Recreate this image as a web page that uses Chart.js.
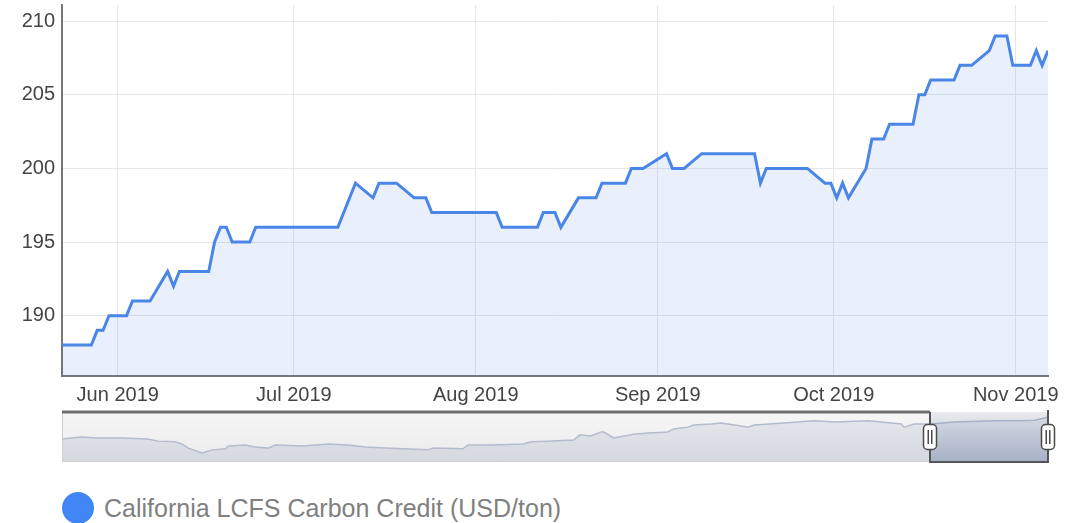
<!DOCTYPE html>
<html>
<head>
<meta charset="utf-8">
<script src="https://cdn.jsdelivr.net/npm/chart.js@4.4.1/dist/chart.umd.min.js"></script>
<style>
  html, body { margin: 0; padding: 0; background: #fff; }
  #wrap { position: relative; width: 1077px; height: 523px; overflow: hidden; }
  #main { position: absolute; left: 0; top: 0; }
  #nav { position: absolute; left: 50px; top: 400px; }
  #legend { position: absolute; left: 62px; top: 492px; display: flex; align-items: center;
            font: 25px 'Liberation Sans', Arial, sans-serif; color: #808080; white-space: nowrap; }
  #legend .dot { width: 32px; height: 32px; border-radius: 50%; margin-right: 10px; }
</style>
</head>
<body>
<div id="wrap">
  <canvas id="main" width="1077" height="405"></canvas>
  <canvas id="nav" width="1020" height="72"></canvas>
  <div id="legend"></div>
</div>
<script>
// --- data ---
const seriesName = 'California LCFS Carbon Credit (USD/ton)';

const dates = [
  '2019-05-22', '2019-05-27', '2019-05-28', '2019-05-29', '2019-05-30', '2019-06-02', '2019-06-03',
  '2019-06-06', '2019-06-09', '2019-06-10', '2019-06-11', '2019-06-16', '2019-06-17', '2019-06-18',
  '2019-06-19', '2019-06-20', '2019-06-23', '2019-06-24', '2019-07-08', '2019-07-11', '2019-07-14',
  '2019-07-15', '2019-07-18', '2019-07-21', '2019-07-23', '2019-07-24', '2019-08-04', '2019-08-05',
  '2019-08-11', '2019-08-12', '2019-08-14', '2019-08-15', '2019-08-18', '2019-08-21', '2019-08-22',
  '2019-08-26', '2019-08-27', '2019-08-29', '2019-09-02', '2019-09-03', '2019-09-05', '2019-09-08',
  '2019-09-17', '2019-09-18', '2019-09-19', '2019-09-26', '2019-09-29', '2019-09-30', '2019-10-01',
  '2019-10-02', '2019-10-03', '2019-10-06', '2019-10-07', '2019-10-09', '2019-10-10', '2019-10-14',
  '2019-10-15', '2019-10-16', '2019-10-17', '2019-10-21', '2019-10-22', '2019-10-24', '2019-10-27',
  '2019-10-28', '2019-10-30', '2019-10-31', '2019-11-03', '2019-11-04', '2019-11-05', '2019-11-06'
];
const prices = [
  188, 188, 189, 189, 190, 190, 191,
  191, 193, 192, 193, 193, 195, 196,
  196, 195, 195, 196, 196, 199, 198,
  199, 199, 198, 198, 197, 197, 196,
  196, 197, 197, 196, 198, 198, 199,
  199, 200, 200, 201, 200, 200, 201,
  201, 199, 200, 200, 199, 199, 198,
  199, 198, 200, 202, 202, 203, 203,
  205, 205, 206, 206, 207, 207, 208,
  209, 209, 207, 207, 208, 207, 208
];

const monthTicks = ['2019-06-01', '2019-07-01', '2019-08-01', '2019-09-01', '2019-10-01', '2019-11-01'];
const monthLabels = ['Jun 2019', 'Jul 2019', 'Aug 2019', 'Sep 2019', 'Oct 2019', 'Nov 2019'];
const priceTicks = [190, 195, 200, 205, 210];

// navigator (full history)
const navDates = [
  '2016-01-01', '2016-01-29', '2016-02-21', '2016-03-26', '2016-05-02', '2016-05-17', '2016-06-10',
  '2016-06-20', '2016-06-29', '2016-07-19', '2016-08-02', '2016-08-21', '2016-08-25', '2016-09-18',
  '2016-10-02', '2016-10-21', '2016-10-31', '2016-12-08', '2017-01-15', '2017-02-12', '2017-03-08',
  '2017-04-06', '2017-06-05', '2017-06-13', '2017-07-25', '2017-08-02', '2017-09-03', '2017-10-20',
  '2017-10-30', '2017-11-23', '2017-12-30', '2018-01-08', '2018-01-23', '2018-02-07', '2018-02-11',
  '2018-02-25', '2018-03-26', '2018-04-15', '2018-05-13', '2018-05-22', '2018-06-11', '2018-06-19',
  '2018-07-14', '2018-07-28', '2018-08-26', '2018-09-05', '2018-09-13', '2018-10-26', '2018-12-08',
  '2019-01-05', '2019-02-23', '2019-04-11', '2019-04-15', '2019-04-29', '2019-05-24', '2019-06-25',
  '2019-08-22', '2019-09-29', '2019-10-18', '2019-11-01', '2019-11-06'
];
const navPrices = [
  145, 151, 148, 148, 145, 139, 137,
  131, 119, 105, 114, 117, 125, 128,
  122, 119, 128, 125, 131, 128, 122,
  119, 114, 119, 117, 128, 128, 131,
  137, 139, 142, 157, 154, 165, 165,
  148, 159, 162, 165, 174, 179, 185,
  188, 191, 182, 179, 185, 191, 197,
  194, 197, 188, 179, 188, 188, 194,
  197, 197, 199, 205, 208
];

const midday = d => Date.parse(d) + 12 * 3600 * 1000;
const tickFont = { family: "'Liberation Sans', Arial, sans-serif", size: 20 };

// === main chart ===
const mainChart = new Chart(document.getElementById('main'), {
  type: 'line',
  data: {
    datasets: [{
      label: seriesName,
      data: dates.map((d, i) => ({ x: midday(d), y: prices[i] })),
      borderColor: '#4a86e8',
      backgroundColor: 'rgba(74, 134, 232, 0.12)',
      borderWidth: 3,
      fill: 'start',
      pointRadius: 0,
      tension: 0
    }]
  },
  options: {
    responsive: false,
    animation: false,
    layout: { padding: { top: 5, right: 29, left: 0, bottom: 0 } },
    plugins: { legend: { display: false }, tooltip: { enabled: false } },
    scales: {
      x: {
        type: 'linear',
        min: midday(dates[0]),
        max: midday(dates[dates.length - 1]),
        afterBuildTicks: axis => { axis.ticks = monthTicks.map(m => ({ value: Date.parse(m) })); },
        afterFit: axis => { axis.height = 29; axis.paddingLeft = 0; axis.paddingRight = 0; },
        ticks: {
          callback: (v, i) => monthLabels[i],
          color: '#444', font: tickFont, padding: 7, maxRotation: 0, autoSkip: false
        },
        grid: { color: '#e6e6e6', drawTicks: false },
        border: { color: '#777', width: 2 }
      },
      y: {
        min: 185.9,
        max: 211.1,
        afterBuildTicks: axis => { axis.ticks = priceTicks.map(v => ({ value: v })); },
        afterFit: axis => { axis.width = 62; axis.paddingTop = 0; axis.paddingBottom = 0; },
        ticks: { color: '#444', font: tickFont, padding: 7 },
        grid: { color: '#e6e6e6', drawTicks: false },
        border: { color: '#777', width: 2 }
      }
    }
  }
});

// html legend from the dataset
const legendEl = document.getElementById('legend');
mainChart.data.datasets.forEach(ds => {
  const dot = document.createElement('span');
  dot.className = 'dot';
  dot.style.background = '#4285f4';
  const txt = document.createElement('span');
  txt.textContent = ds.label;
  legendEl.appendChild(dot);
  legendEl.appendChild(txt);
});

// === navigator ===
const selStart = midday(dates[0]);
const selEnd = midday(dates[dates.length - 1]);

const navDecor = {
  id: 'navDecor',
  beforeDatasetsDraw(chart) {
    const { ctx, chartArea: a } = chart;
    const g = ctx.createLinearGradient(0, a.top, 0, a.bottom);
    g.addColorStop(0, '#f6f6f6');
    g.addColorStop(1, '#ebebeb');
    ctx.save();
    ctx.fillStyle = g;
    ctx.fillRect(a.left, a.top, a.right - a.left, a.bottom - a.top);
    ctx.restore();
  },
  afterDatasetsDraw(chart) {
    const { ctx, chartArea: a, scales } = chart;
    const x0 = Math.round(scales.x.getPixelForValue(selStart));
    const x1 = Math.round(scales.x.getPixelForValue(selEnd));
    ctx.save();
    // selected range mask
    const m = ctx.createLinearGradient(0, a.top, 0, a.bottom);
    m.addColorStop(0, 'rgba(80, 100, 150, 0.08)');
    m.addColorStop(1, 'rgba(80, 100, 150, 0.34)');
    ctx.fillStyle = m;
    ctx.fillRect(x0, a.top, x1 - x0, a.bottom - a.top);
    // thin frame left / bottom of unselected part
    ctx.strokeStyle = '#d0d0d0';
    ctx.lineWidth = 1;
    ctx.beginPath();
    ctx.moveTo(a.left + 0.5, a.top);
    ctx.lineTo(a.left + 0.5, a.bottom - 0.5);
    ctx.lineTo(x0, a.bottom - 0.5);
    ctx.stroke();
    // outline
    ctx.strokeStyle = '#6e6e6e';
    ctx.lineWidth = 3;
    ctx.beginPath();
    ctx.moveTo(a.left, a.top);
    ctx.lineTo(x0, a.top);
    ctx.stroke();
    ctx.strokeStyle = '#555';
    ctx.lineWidth = 2;
    ctx.beginPath();
    ctx.moveTo(x0, a.top);
    ctx.lineTo(x0, a.bottom);
    ctx.lineTo(x1, a.bottom);
    ctx.lineTo(x1, a.top - 2);
    ctx.stroke();
    // handles
    const cy = (a.top + a.bottom) / 2;
    [x0, x1].forEach(x => {
      ctx.fillStyle = '#fff';
      ctx.strokeStyle = '#4a4a4a';
      ctx.lineWidth = 1.5;
      ctx.beginPath();
      ctx.roundRect(x - 6.5, cy - 12.5, 13, 25, 4);
      ctx.fill();
      ctx.stroke();
      ctx.lineWidth = 1.5;
      ctx.beginPath();
      ctx.moveTo(x - 1.75, cy - 7);
      ctx.lineTo(x - 1.75, cy + 7);
      ctx.moveTo(x + 1.75, cy - 7);
      ctx.lineTo(x + 1.75, cy + 7);
      ctx.stroke();
    });
    ctx.restore();
  }
};

new Chart(document.getElementById('nav'), {
  type: 'line',
  data: {
    datasets: [{
      data: navDates.map((d, i) => ({ x: midday(d), y: navPrices[i] })),
      borderColor: '#b3bccd',
      borderWidth: 1.5,
      fill: 'start',
      backgroundColor: ctx => {
        const a = ctx.chart.chartArea;
        if (!a) return '#dde0e6';
        const g = ctx.chart.ctx.createLinearGradient(0, a.top, 0, a.bottom);
        g.addColorStop(0, '#e6e8ed');
        g.addColorStop(1, '#d4d8df');
        return g;
      },
      pointRadius: 0,
      tension: 0
    }]
  },
  options: {
    responsive: false,
    animation: false,
    layout: { padding: { left: 12, right: 22, top: 12, bottom: 10 } },
    plugins: { legend: { display: false }, tooltip: { enabled: false } },
    scales: {
      x: { type: 'linear', display: false, min: midday(navDates[0]), max: midday(navDates[navDates.length - 1]) },
      y: { display: false, min: 79.3, max: 222.3 }
    }
  },
  plugins: [navDecor]
});
</script>
</body>
</html>
